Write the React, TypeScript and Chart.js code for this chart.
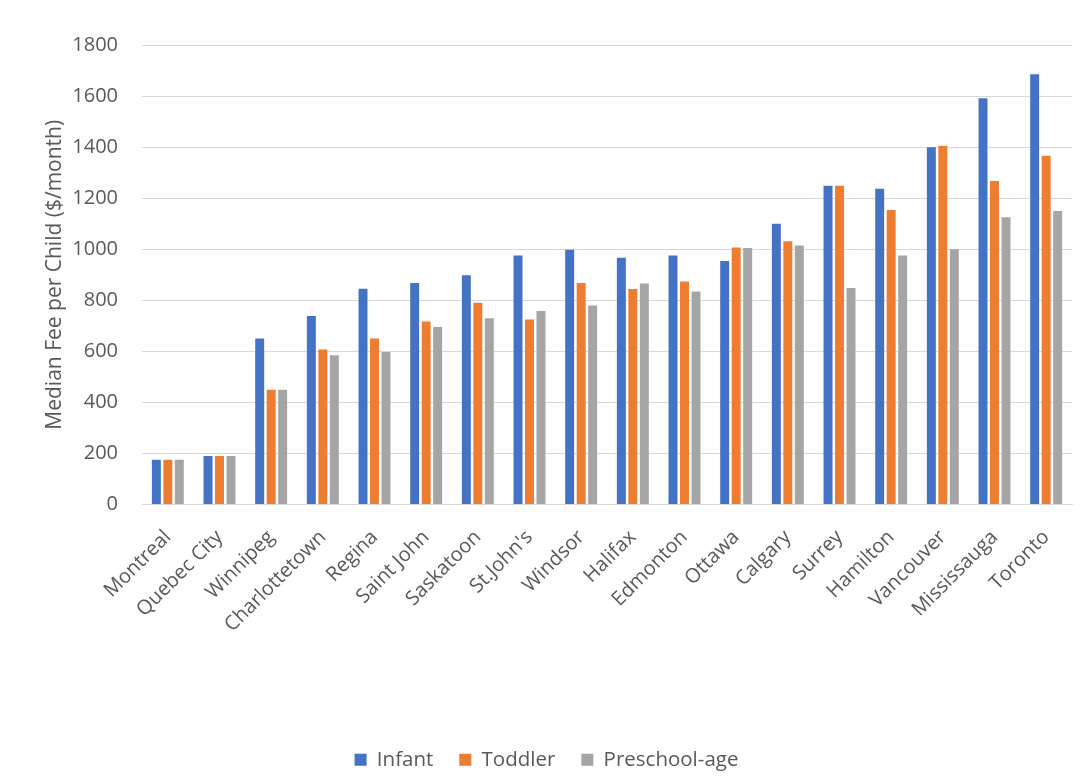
import React, { useEffect, useRef } from "react";
import { Chart, registerables } from "chart.js";

Chart.register(...registerables);

const categories = [
  "Montreal", "Quebec City", "Winnipeg", "Charlottetown", "Regina", "Saint John",
  "Saskatoon", "St.John's", "Windsor", "Halifax", "Edmonton", "Ottawa",
  "Calgary", "Surrey", "Hamilton", "Vancouver", "Mississauga", "Toronto",
];
const infant = [175, 190, 650, 738, 845, 868, 898, 975, 998, 967, 975, 954, 1100, 1249, 1237, 1399, 1591, 1685];
const toddler = [175, 190, 450, 607, 650, 717, 790, 725, 868, 844, 874, 1007, 1031, 1249, 1154, 1405, 1267, 1366];
const preschool = [175, 190, 450, 585, 597, 695, 730, 758, 780, 866, 834, 1005, 1015, 848, 975, 1000, 1125, 1150];
const yTitle = "Median Fee per Child ($/month)";
const seriesNames = ["Infant", "Toddler", "Preschool-age"];

const FONT = "'Open Sans', 'Noto Sans', sans-serif";
const TEXT = "#595959";

export default function App() {
  const ref = useRef<HTMLCanvasElement | null>(null);
  useEffect(() => {
    document.body.style.margin = "0";
    const ctx = ref.current!;
    const chart = new Chart(ctx, {
      type: "bar",
      data: {
        labels: categories,
        datasets: [
          { label: seriesNames[0], data: infant, backgroundColor: "#4472C4" },
          { label: seriesNames[1], data: toddler, backgroundColor: "#ED7D31" },
          { label: seriesNames[2], data: preschool, backgroundColor: "#A5A5A5" },
        ],
      },
      options: {
        animation: false,
        responsive: false,
        devicePixelRatio: 1,
        datasets: { bar: { categoryPercentage: 0.667, barPercentage: 0.78 } },
        layout: { padding: { top: 45, right: 8, left: 21, bottom: -4 } },
        plugins: {
          tooltip: { enabled: false },
          legend: {
            position: "bottom",
            labels: {
              boxWidth: 12,
              boxHeight: 12,
              padding: 26,
              color: TEXT,
              font: { family: FONT, size: 20.5 },
            },
          },
        },
        scales: {
          x: {
            grid: { display: false, drawTicks: false },
            border: { display: true, color: "#d9d9d9", width: 1 },
            ticks: {
              color: TEXT,
              font: { family: FONT, size: 20 },
              maxRotation: 45,
              minRotation: 45,
              padding: 21,
              autoSkip: false,
            },
            afterFit: (scale: any) => {
              scale.height = 219;
              scale.paddingLeft = 0;
              scale.paddingRight = 0;
            },
          },
          y: {
            min: 0,
            max: 1800,
            ticks: {
              stepSize: 200,
              color: TEXT,
              font: { family: FONT, size: 20 },
              padding: 24,
              callback: (v: any) => String(v),
            },
            grid: { color: "#d9d9d9", drawTicks: false, lineWidth: 1 },
            border: { display: false },
            title: {
              display: true,
              text: yTitle,
              color: TEXT,
              font: { family: FONT, size: 21, weight: "normal" },
              padding: { top: 21, bottom: 0 },
            },
            afterFit: (scale: any) => {
              scale.width = 121;
            },
          },
        },
      },
    });
    return () => chart.destroy();
  }, []);
  return (
    <div style={{ position: "absolute", left: 0, top: 0, width: 1080, height: 776, background: "#fff" }}>
      <canvas ref={ref} width={1080} height={776} style={{ width: 1080, height: 776 }} />
    </div>
  );
}
